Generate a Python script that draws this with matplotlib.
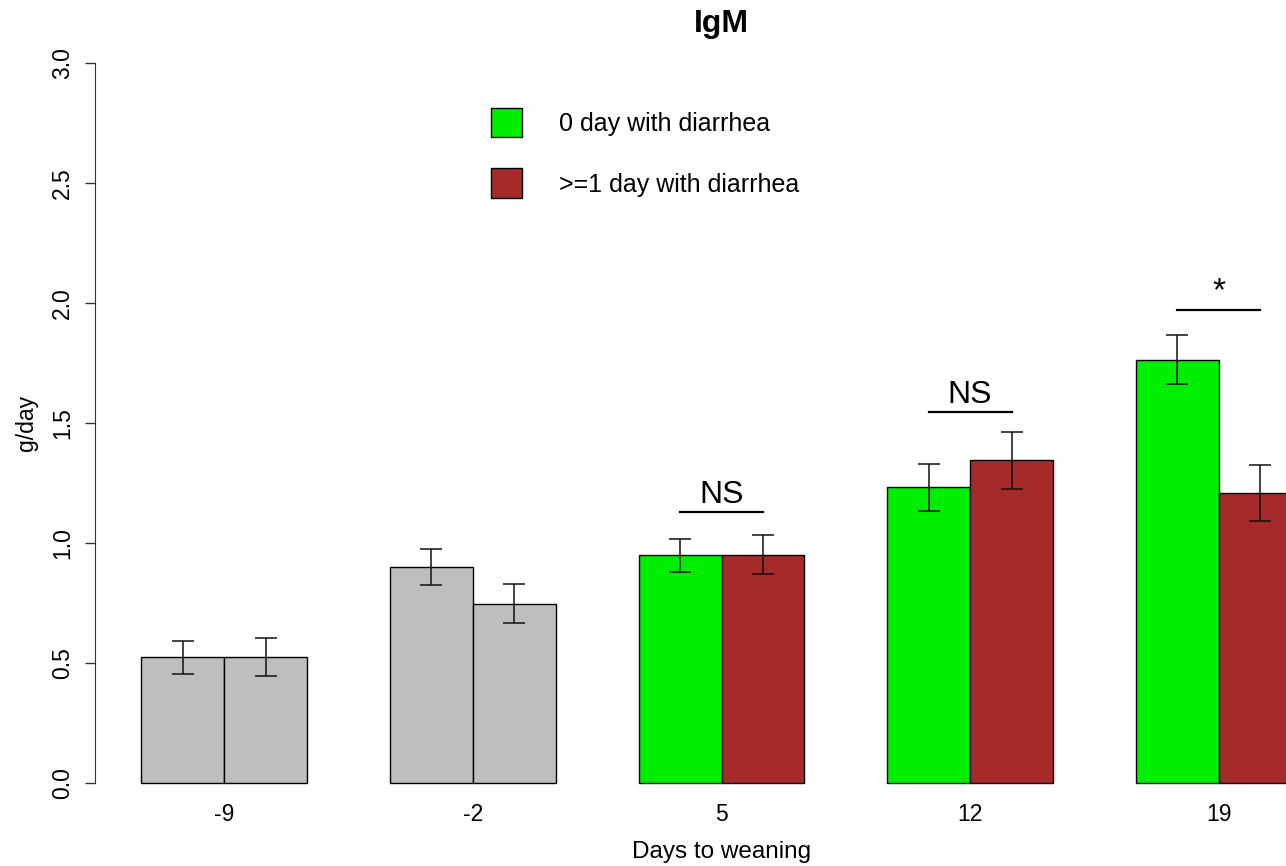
import numpy as np
import matplotlib
matplotlib.use("Agg")
import matplotlib.pyplot as plt
from matplotlib.patches import Patch

plt.rcParams['font.family'] = ['Liberation Sans', 'DejaVu Sans']

# data
days = ['-9', '-2', '5', '12', '19']
mean_none = [0.524, 0.90, 0.948, 1.233, 1.764]
se_none = [0.068, 0.073, 0.070, 0.098, 0.102]
mean_diar = [0.526, 0.747, 0.952, 1.344, 1.208]
se_diar = [0.080, 0.081, 0.081, 0.119, 0.116]

# significance brackets: group index, bar height of line, label
sig_groups = [2, 3, 4]
sig_heights = [1.128, 1.545, 1.971]
sig_labels = ['NS', 'NS', '*']

green = '#00EE00'
brown = '#A52A2A'
gray = '#BEBEBE'
col_none = [gray, gray, green, green, green]
col_diar = [gray, gray, brown, brown, brown]

# R barplot layout: width 1, space 1 between groups
left_none = 1 + 3 * np.arange(len(days))
x_none = left_none + 0.5
x_diar = left_none + 1.5
centers = left_none + 1.0

fig = plt.figure(figsize=(12.86, 8.66), dpi=100)
ax = fig.add_axes([95 / 1286, 54.2 / 866, (1348 - 95) / 1286, (831.8 - 54.2) / 866])

ax.bar(x_none, mean_none, width=1, color=col_none, edgecolor='black', linewidth=1)
ax.bar(x_diar, mean_diar, width=1, color=col_diar, edgecolor='black', linewidth=1)
ax.errorbar(x_none, mean_none, yerr=se_none, fmt='none', ecolor='#111111',
            elinewidth=1.1, capsize=7.9, capthick=1.1)
ax.errorbar(x_diar, mean_diar, yerr=se_diar, fmt='none', ecolor='#111111',
            elinewidth=1.1, capsize=7.9, capthick=1.1)

for g, h, lab in zip(sig_groups, sig_heights, sig_labels):
    ax.plot([x_none[g], x_diar[g]], [h, h], color='black', lw=1.6)
    fs = 23 if lab == 'NS' else 24
    ax.text(centers[g], h + 0.04, lab, ha='center', va='baseline', fontsize=fs)

ax.set_xlim(0.44, 15.56)
ax.set_ylim(-0.12, 3.12)
ax.set_yticks(np.arange(0, 3.01, 0.5))
ax.set_yticklabels(['%.1f' % v for v in np.arange(0, 3.01, 0.5)], rotation=90, va='center')
ax.set_xticks(centers)
ax.set_xticklabels(days)
ax.tick_params(axis='x', length=0, pad=-6.5, labelsize=16.5)
ax.tick_params(axis='y', length=7.2, width=1, pad=8, labelsize=16.5, color='#333333')

for s in ['top', 'right', 'bottom']:
    ax.spines[s].set_visible(False)
ax.spines['left'].set_bounds(0, 3)
ax.spines['left'].set_color('#333333')

ax.set_title('IgM', fontsize=23, fontweight='bold', y=1.003, pad=0)
ax.set_xlabel('Days to weaning', fontsize=17.5, labelpad=11)
ax.set_ylabel('g/day', fontsize=16.5, labelpad=9)

handles = [Patch(facecolor=green, edgecolor='black'),
           Patch(facecolor=brown, edgecolor='black')]
ax.legend(handles, ['0 day with diarrhea', '>=1 day with diarrhea'],
          loc='upper left', bbox_to_anchor=(468 / 1286, 1 - 85 / 866),
          bbox_transform=fig.transFigure, frameon=False, fontsize=18,
          handlelength=1.25, handleheight=1.45, handletextpad=1.5,
          labelspacing=1.25)

fig.savefig('out.png', dpi=100)
